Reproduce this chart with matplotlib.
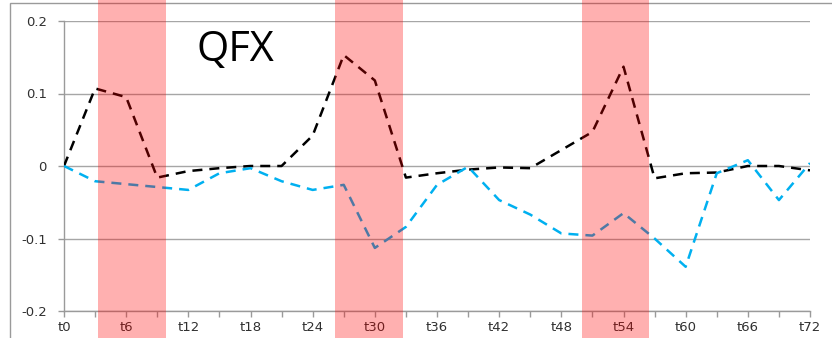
import numpy as np
import matplotlib
matplotlib.use("Agg")
import matplotlib.pyplot as plt
from matplotlib.patches import Rectangle
from matplotlib.transforms import blended_transform_factory

# hours, sampled every 3 steps
steps = list(range(0, 73, 3))
tick_labels = ["t%d" % s for s in range(0, 73, 6)]

black_vals = [0.0, 0.107, 0.095, -0.016, -0.007, -0.003, 0.0, 0.0, 0.042, 0.153,
              0.118, -0.016, -0.010, -0.005, -0.002, -0.003, 0.022, 0.047, 0.137,
              -0.017, -0.010, -0.009, 0.0, 0.0, -0.006]
blue_vals = [0.0, -0.021, -0.025, -0.029, -0.033, -0.010, -0.003, -0.021, -0.033,
             -0.026, -0.113, -0.084, -0.026, -0.001, -0.047, -0.067, -0.093, -0.096,
             -0.065, -0.100, -0.139, -0.010, 0.008, -0.047, 0.004]

# highlighted periods (start, end)
bands = [(3.3, 9.85), (26.2, 32.7), (50.0, 56.5)]

W, H = 832, 338
fig = plt.figure(figsize=(W / 100, H / 100), dpi=100)
ax = fig.add_axes([64 / W, 27 / H, (810 - 64) / W, (311 - 21) / H])

# outer chart frame
fig.patches.append(Rectangle((10 / W, -0.1), 1.0, 1 - 3 / H + 0.1, transform=fig.transFigure,
                             fill=False, edgecolor="#9a9a9a", linewidth=1.0))

ax.plot(steps, black_vals, color="black", lw=1.8, dashes=(4, 2.8), zorder=3)
ax.plot(steps, blue_vals, color="#00b0f0", lw=1.8, dashes=(4, 2.8), zorder=3)

ax.set_xlim(0, 72)
ax.set_ylim(-0.2, 0.2)
ax.set_yticks([-0.2, -0.1, 0, 0.1, 0.2])
ax.set_yticklabels(["-0.2", "-0.1", "0", "0.1", "0.2"])
ax.set_xticks(range(0, 73, 6))
ax.set_xticklabels(tick_labels)
ax.set_xticks(range(0, 73, 3), minor=True)

ax.grid(axis="y", color="#a6a6a6", lw=1.0)
ax.set_axisbelow(True)
for s in ["top", "right"]:
    ax.spines[s].set_visible(False)
for s in ["left", "bottom"]:
    ax.spines[s].set_color("#9a9a9a")
    ax.spines[s].set_linewidth(1.0)
ax.tick_params(axis="both", which="both", color="#9a9a9a", length=4.5, width=1.0,
               labelsize=9.5, labelcolor="#303030", direction="out")
ax.tick_params(axis="x", which="major", pad=2.5)
ax.tick_params(axis="y", pad=8)

ax.text(0.177, 0.9, "QFX", transform=ax.transAxes, fontsize=30,
        family="Open Sans", va="center", ha="left", color="black")

# translucent red bands across the full figure height
trans = blended_transform_factory(ax.transData, fig.transFigure)
for x0, x1 in bands:
    fig.patches.append(Rectangle((x0, 0), x1 - x0, 1, transform=trans,
                                 facecolor="red", alpha=0.31, edgecolor="none",
                                 zorder=10))

fig.savefig("out.png", dpi=100)
